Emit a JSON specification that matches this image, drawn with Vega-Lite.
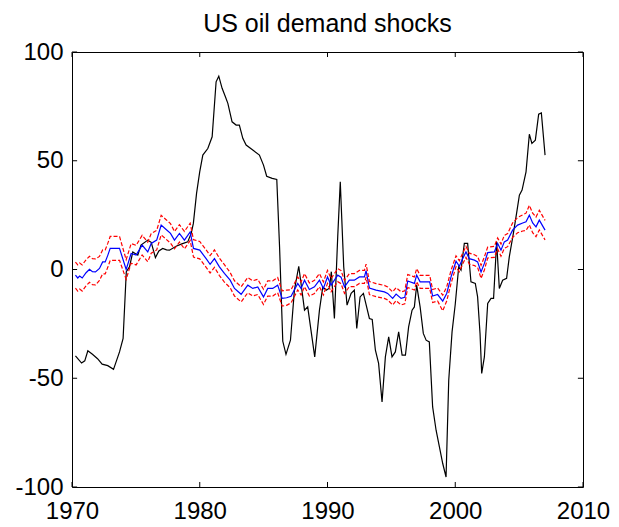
{
  "$schema": "https://vega.github.io/schema/vega-lite/v6.json",
  "width": 511,
  "height": 435,
  "autosize": {"type": "none"},
  "padding": {"left": 72, "top": 52, "right": 36, "bottom": 40},
  "background": "white",
  "title": {"text": "US oil demand shocks", "font": "Liberation Sans", "fontSize": 25, "fontWeight": "normal", "color": "black", "anchor": "middle", "offset": 3},
  "config": {
    "view": {"stroke": "black", "strokeWidth": 1},
    "axis": {"grid": false, "domain": false, "ticks": false, "labelFont": "Liberation Sans", "labelFontSize": 24, "labelColor": "black", "labelFlush": false, "labelOverlap": false, "labelBound": false, "title": null}
  },
  "datasets": {
    "xt": [{"t": 1970}, {"t": 1980}, {"t": 1990}, {"t": 2000}, {"t": 2010}],
    "yt": [{"v": -100}, {"v": -50}, {"v": 0}, {"v": 50}, {"v": 100}],
    "oil": [
      {"t": 1970.27, "v": -39.7}, {"t": 1970.75, "v": -43}, {"t": 1971.0, "v": -42}, {"t": 1971.24, "v": -37.4}, {"t": 1971.6, "v": -39},
      {"t": 1972.0, "v": -41}, {"t": 1972.36, "v": -43.5}, {"t": 1972.8, "v": -44.2}, {"t": 1973.25, "v": -45.9}, {"t": 1973.72, "v": -37.9},
      {"t": 1974.0, "v": -31.7}, {"t": 1974.25, "v": -1}, {"t": 1974.5, "v": 1.2}, {"t": 1974.76, "v": 8.1}, {"t": 1975.15, "v": 6.6},
      {"t": 1975.4, "v": 11.2}, {"t": 1975.93, "v": 13.5}, {"t": 1976.2, "v": 12.5}, {"t": 1976.53, "v": 5.5}, {"t": 1976.8, "v": 8.5},
      {"t": 1977.1, "v": 9.7}, {"t": 1977.4, "v": 9.0}, {"t": 1977.63, "v": 8.9}, {"t": 1978.15, "v": 10.7}, {"t": 1978.6, "v": 11.8},
      {"t": 1979.06, "v": 12.7}, {"t": 1979.33, "v": 16.6}, {"t": 1979.5, "v": 21.2}, {"t": 1979.75, "v": 35}, {"t": 1980.0, "v": 45},
      {"t": 1980.24, "v": 52.6}, {"t": 1980.63, "v": 55.6}, {"t": 1980.97, "v": 61}, {"t": 1981.28, "v": 86.3}, {"t": 1981.49, "v": 88.9},
      {"t": 1981.75, "v": 83.3}, {"t": 1982.0, "v": 79.5}, {"t": 1982.2, "v": 76.4}, {"t": 1982.53, "v": 67.9}, {"t": 1982.85, "v": 66.4},
      {"t": 1983.1, "v": 66.4}, {"t": 1983.37, "v": 60.3}, {"t": 1983.63, "v": 57.2}, {"t": 1984.15, "v": 54.9}, {"t": 1984.67, "v": 52.6},
      {"t": 1984.99, "v": 48}, {"t": 1985.24, "v": 42.9}, {"t": 1985.67, "v": 41.9}, {"t": 1986.03, "v": 41.4}, {"t": 1986.25, "v": 10},
      {"t": 1986.5, "v": -33}, {"t": 1986.75, "v": -39}, {"t": 1987.1, "v": -32.5}, {"t": 1987.41, "v": -9.5}, {"t": 1987.75, "v": 1.5},
      {"t": 1988.2, "v": -18.7}, {"t": 1988.45, "v": -17.2}, {"t": 1989.0, "v": -40.2}, {"t": 1989.37, "v": -18.7}, {"t": 1989.63, "v": -8},
      {"t": 1989.9, "v": -9.5}, {"t": 1990.15, "v": -8.6}, {"t": 1990.3, "v": -1}, {"t": 1990.54, "v": -22.5}, {"t": 1990.8, "v": 15},
      {"t": 1991.0, "v": 40.3}, {"t": 1991.27, "v": 1.2}, {"t": 1991.53, "v": -16.4}, {"t": 1991.85, "v": -11}, {"t": 1992.1, "v": -9.5},
      {"t": 1992.29, "v": -27.1}, {"t": 1992.55, "v": -12.6}, {"t": 1992.81, "v": -11}, {"t": 1993.28, "v": -22.5}, {"t": 1993.5, "v": -23},
      {"t": 1993.75, "v": -37.1}, {"t": 1994.0, "v": -43.2}, {"t": 1994.27, "v": -60.9}, {"t": 1994.53, "v": -40.2}, {"t": 1994.79, "v": -31},
      {"t": 1995.05, "v": -40.2}, {"t": 1995.31, "v": -37.9}, {"t": 1995.57, "v": -28.7}, {"t": 1995.84, "v": -39.4}, {"t": 1996.1, "v": -39.4},
      {"t": 1996.35, "v": -26.4}, {"t": 1996.62, "v": -18.7}, {"t": 1996.8, "v": -17.2}, {"t": 1996.98, "v": -7.2}, {"t": 1997.25, "v": -17.2},
      {"t": 1997.5, "v": -29.4}, {"t": 1997.72, "v": -32.5}, {"t": 1997.97, "v": -33.3}, {"t": 1998.23, "v": -63.2}, {"t": 1998.5, "v": -73.9},
      {"t": 1998.76, "v": -81.6}, {"t": 1999.02, "v": -89.2}, {"t": 1999.28, "v": -95.4}, {"t": 1999.49, "v": -50.9}, {"t": 1999.75, "v": -28.7},
      {"t": 2000.0, "v": -16}, {"t": 2000.27, "v": 1.2}, {"t": 2000.45, "v": -0.3}, {"t": 2000.71, "v": 12}, {"t": 2000.97, "v": 12},
      {"t": 2001.23, "v": -5.7}, {"t": 2001.57, "v": -6.4}, {"t": 2001.75, "v": -12.6}, {"t": 2001.94, "v": -29.4}, {"t": 2002.07, "v": -47.8},
      {"t": 2002.28, "v": -40.2}, {"t": 2002.54, "v": -15.6}, {"t": 2002.8, "v": -13.3}, {"t": 2003.0, "v": -13.3}, {"t": 2003.24, "v": 12.7},
      {"t": 2003.45, "v": -8.7}, {"t": 2003.71, "v": -4.9}, {"t": 2004.02, "v": -4.1}, {"t": 2004.23, "v": 5.8}, {"t": 2004.55, "v": 16.6},
      {"t": 2004.8, "v": 25.8}, {"t": 2005.02, "v": 34.2}, {"t": 2005.23, "v": 36.5}, {"t": 2005.54, "v": 44.9}, {"t": 2005.8, "v": 62.2},
      {"t": 2006.0, "v": 58}, {"t": 2006.27, "v": 59.5}, {"t": 2006.53, "v": 71.4}, {"t": 2006.74, "v": 72}, {"t": 2007.03, "v": 52.6}
    ],
    "est": [
      {"t": 1970.27, "v": -2.6, "lo": -8.6, "hi": 3.4}, {"t": 1970.45, "v": -3.9, "lo": -9.9, "hi": 2.1}, {"t": 1970.6, "v": -3.0, "lo": -9, "hi": 3},
      {"t": 1970.8, "v": -3.9, "lo": -9.9, "hi": 2.1}, {"t": 1971.1, "v": -1.5, "lo": -7.5, "hi": 4.5}, {"t": 1971.37, "v": 0.1, "lo": -5.9, "hi": 6.1},
      {"t": 1971.6, "v": -1.0, "lo": -7, "hi": 5}, {"t": 1971.84, "v": -1.1, "lo": -7.1, "hi": 4.9}, {"t": 1972.15, "v": 0.5, "lo": -5, "hi": 6},
      {"t": 1972.4, "v": 3.5, "lo": -2, "hi": 9}, {"t": 1972.6, "v": 3.5, "lo": -2, "hi": 9}, {"t": 1972.8, "v": 6.5, "lo": 1, "hi": 12},
      {"t": 1972.99, "v": 9.7, "lo": 4.2, "hi": 15.2}, {"t": 1973.72, "v": 9.7, "lo": 4.2, "hi": 15.2}, {"t": 1974.24, "v": 0, "lo": -4.5, "hi": 4.5},
      {"t": 1974.63, "v": 7.4, "lo": 2.9, "hi": 11.9}, {"t": 1975.02, "v": 6.6, "lo": 2.1, "hi": 11.1}, {"t": 1975.49, "v": 11.2, "lo": 6.7, "hi": 15.7},
      {"t": 1975.93, "v": 8.1, "lo": 3.6, "hi": 12.6}, {"t": 1976.2, "v": 12, "lo": 7.5, "hi": 16.5}, {"t": 1976.63, "v": 13.5, "lo": 9, "hi": 18},
      {"t": 1976.98, "v": 20.4, "lo": 15.9, "hi": 24.9}, {"t": 1977.37, "v": 18.4, "lo": 13.9, "hi": 22.9}, {"t": 1977.71, "v": 16.6, "lo": 12.1, "hi": 21.1},
      {"t": 1978.02, "v": 13.5, "lo": 9.5, "hi": 17.5}, {"t": 1978.41, "v": 16.6, "lo": 12.6, "hi": 20.6}, {"t": 1978.8, "v": 13.5, "lo": 9.5, "hi": 17.5},
      {"t": 1979.25, "v": 17.3, "lo": 13.3, "hi": 21.3}, {"t": 1979.51, "v": 9.7, "lo": 5.7, "hi": 13.7}, {"t": 1980.0, "v": 8.9, "lo": 4.9, "hi": 12.9},
      {"t": 1980.5, "v": 5, "lo": 1, "hi": 9}, {"t": 1980.81, "v": 2.4, "lo": -1.6, "hi": 6.4}, {"t": 1981.15, "v": 5, "lo": 1, "hi": 9},
      {"t": 1981.54, "v": 1.2, "lo": -2.8, "hi": 5.2}, {"t": 1981.93, "v": -1.8, "lo": -5.8, "hi": 2.2}, {"t": 1982.38, "v": -4.9, "lo": -8.4, "hi": -1.4},
      {"t": 1982.72, "v": -8.7, "lo": -12.2, "hi": -5.2}, {"t": 1983.24, "v": -11.4, "lo": -14.9, "hi": -7.9}, {"t": 1983.76, "v": -7.2, "lo": -10.7, "hi": -3.7},
      {"t": 1984.15, "v": -8.7, "lo": -12.2, "hi": -5.2}, {"t": 1984.54, "v": -8, "lo": -11.5, "hi": -4.5}, {"t": 1984.99, "v": -12.6, "lo": -16.1, "hi": -9.1},
      {"t": 1985.32, "v": -8.7, "lo": -12.2, "hi": -5.2}, {"t": 1985.71, "v": -8.7, "lo": -12.2, "hi": -5.2}, {"t": 1986.1, "v": -7.2, "lo": -10.7, "hi": -3.7},
      {"t": 1986.45, "v": -13.3, "lo": -16.8, "hi": -9.8}, {"t": 1986.8, "v": -13, "lo": -16.5, "hi": -9.5}, {"t": 1987.15, "v": -12.3, "lo": -15.3, "hi": -9.3},
      {"t": 1987.67, "v": -6.4, "lo": -9.4, "hi": -3.4}, {"t": 1987.93, "v": -8.7, "lo": -11.7, "hi": -5.7}, {"t": 1988.2, "v": -4.9, "lo": -7.9, "hi": -1.9},
      {"t": 1988.58, "v": -9.2, "lo": -12.2, "hi": -6.2}, {"t": 1988.98, "v": -8, "lo": -11, "hi": -5}, {"t": 1989.37, "v": -4.9, "lo": -7.9, "hi": -1.9},
      {"t": 1989.68, "v": -8.7, "lo": -11.7, "hi": -5.7}, {"t": 1990.0, "v": -3.4, "lo": -6.4, "hi": -0.4}, {"t": 1990.28, "v": -7.2, "lo": -10.2, "hi": -4.2},
      {"t": 1990.54, "v": -4.9, "lo": -7.9, "hi": -1.9}, {"t": 1990.8, "v": -2.6, "lo": -5.6, "hi": 0.4}, {"t": 1991.06, "v": -3.5, "lo": -6.5, "hi": -0.5},
      {"t": 1991.33, "v": -8, "lo": -11, "hi": -5}, {"t": 1991.71, "v": -4.9, "lo": -7.9, "hi": -1.9}, {"t": 1992.1, "v": -4.9, "lo": -7.9, "hi": -1.9},
      {"t": 1992.5, "v": -3.4, "lo": -6.4, "hi": -0.4}, {"t": 1992.89, "v": -3.4, "lo": -6.4, "hi": -0.4}, {"t": 1993.02, "v": -0.5, "lo": -3.5, "hi": 2.5},
      {"t": 1993.28, "v": -8.5, "lo": -11.5, "hi": -5.5}, {"t": 1993.8, "v": -9.5, "lo": -12.5, "hi": -6.5}, {"t": 1994.45, "v": -10.3, "lo": -13.3, "hi": -7.3},
      {"t": 1994.71, "v": -11, "lo": -14, "hi": -8}, {"t": 1995.1, "v": -13.3, "lo": -16.3, "hi": -10.3}, {"t": 1995.37, "v": -11.3, "lo": -14.3, "hi": -8.3},
      {"t": 1995.76, "v": -13.3, "lo": -16.3, "hi": -10.3}, {"t": 1996.05, "v": -12.8, "lo": -15.8, "hi": -9.8}, {"t": 1996.28, "v": -5.3, "lo": -8.3, "hi": -2.3},
      {"t": 1996.8, "v": -6.4, "lo": -9.4, "hi": -3.4}, {"t": 1996.98, "v": -2.6, "lo": -5.6, "hi": 0.4}, {"t": 1997.25, "v": -5.7, "lo": -8.7, "hi": -2.7},
      {"t": 1998.0, "v": -5.7, "lo": -8.7, "hi": -2.7}, {"t": 1998.23, "v": -12.2, "lo": -15.2, "hi": -9.2}, {"t": 1998.62, "v": -11.5, "lo": -14.5, "hi": -8.5},
      {"t": 1999.02, "v": -14.5, "lo": -19, "hi": -11.8}, {"t": 1999.33, "v": -11, "lo": -14.5, "hi": -8}, {"t": 1999.67, "v": -3.4, "lo": -6.4, "hi": -0.4},
      {"t": 2000.06, "v": 3.8, "lo": 1.3, "hi": 6.3}, {"t": 2000.32, "v": 1.5, "lo": -1, "hi": 4}, {"t": 2000.58, "v": 5, "lo": 2.5, "hi": 7.5},
      {"t": 2000.84, "v": 8.1, "lo": 5.6, "hi": 10.6}, {"t": 2001.1, "v": 5, "lo": 2.5, "hi": 7.5}, {"t": 2001.5, "v": 4.3, "lo": 1.8, "hi": 6.8},
      {"t": 2001.75, "v": 3.5, "lo": 1, "hi": 6}, {"t": 2002.02, "v": -1.1, "lo": -4.1, "hi": 1.9}, {"t": 2002.28, "v": 2.8, "lo": -0.2, "hi": 5.8},
      {"t": 2002.54, "v": 7.8, "lo": 5.3, "hi": 10.3}, {"t": 2003.06, "v": 8.1, "lo": 5.6, "hi": 10.6}, {"t": 2003.32, "v": 12, "lo": 9.5, "hi": 14.5},
      {"t": 2003.58, "v": 8.9, "lo": 6.1, "hi": 11.7}, {"t": 2003.84, "v": 12.7, "lo": 9.7, "hi": 15.7}, {"t": 2004.1, "v": 13.5, "lo": 10.5, "hi": 16.5},
      {"t": 2004.49, "v": 18.1, "lo": 14.8, "hi": 21.4}, {"t": 2004.88, "v": 20.4, "lo": 16.9, "hi": 23.9}, {"t": 2005.28, "v": 21.4, "lo": 17.7, "hi": 25.1},
      {"t": 2005.54, "v": 21.9, "lo": 17.9, "hi": 25.9}, {"t": 2005.8, "v": 25, "lo": 20.5, "hi": 29.5}, {"t": 2006.06, "v": 21.4, "lo": 16.9, "hi": 25.9},
      {"t": 2006.32, "v": 19.6, "lo": 15.1, "hi": 24.1}, {"t": 2006.58, "v": 22.7, "lo": 18.2, "hi": 27.2}, {"t": 2007.03, "v": 18.1, "lo": 13.6, "hi": 22.6}
    ]
  },
  "encoding": {
    "x": {"type": "quantitative", "scale": {"domain": [1970, 2010], "nice": false, "zero": false},
          "axis": {"orient": "bottom", "values": [1970, 1980, 1990, 2000, 2010], "format": "d", "labelPadding": 31, "labelBaseline": "alphabetic"}},
    "y": {"type": "quantitative", "scale": {"domain": [-100, 100], "nice": false, "zero": false},
          "axis": {"orient": "left", "values": [-100, -50, 0, 50, 100], "labelExpr": "toString(datum.value)", "labelPadding": 9}}
  },
  "layer": [
    {
      "data": {"name": "oil"},
      "mark": {"type": "line", "color": "black", "strokeWidth": 1.2, "clip": true},
      "encoding": {"x": {"field": "t"}, "y": {"field": "v"}}
    },
    {
      "data": {"name": "est"},
      "mark": {"type": "line", "color": "#0000ff", "strokeWidth": 1.2, "clip": true},
      "encoding": {"x": {"field": "t"}, "y": {"field": "v"}}
    },
    {
      "data": {"name": "est"},
      "mark": {"type": "line", "color": "#ff0000", "strokeWidth": 1.2, "strokeDash": [4, 2], "clip": true},
      "encoding": {"x": {"field": "t"}, "y": {"field": "hi"}}
    },
    {
      "data": {"name": "est"},
      "mark": {"type": "line", "color": "#ff0000", "strokeWidth": 1.2, "strokeDash": [4, 2], "clip": true},
      "encoding": {"x": {"field": "t"}, "y": {"field": "lo"}}
    },
    {
      "data": {"name": "xt"},
      "mark": {"type": "rule", "color": "black", "strokeWidth": 1},
      "encoding": {"x": {"field": "t"}, "y": {"datum": -100}, "y2": {"datum": -97.7}}
    },
    {
      "data": {"name": "xt"},
      "mark": {"type": "rule", "color": "black", "strokeWidth": 1},
      "encoding": {"x": {"field": "t"}, "y": {"datum": 100}, "y2": {"datum": 97.7}}
    },
    {
      "data": {"name": "yt"},
      "mark": {"type": "rule", "color": "black", "strokeWidth": 1},
      "encoding": {"y": {"field": "v"}, "x": {"datum": 1970}, "x2": {"datum": 1970.4}}
    },
    {
      "data": {"name": "yt"},
      "mark": {"type": "rule", "color": "black", "strokeWidth": 1},
      "encoding": {"y": {"field": "v"}, "x": {"datum": 2010}, "x2": {"datum": 2009.6}}
    }
  ]
}
